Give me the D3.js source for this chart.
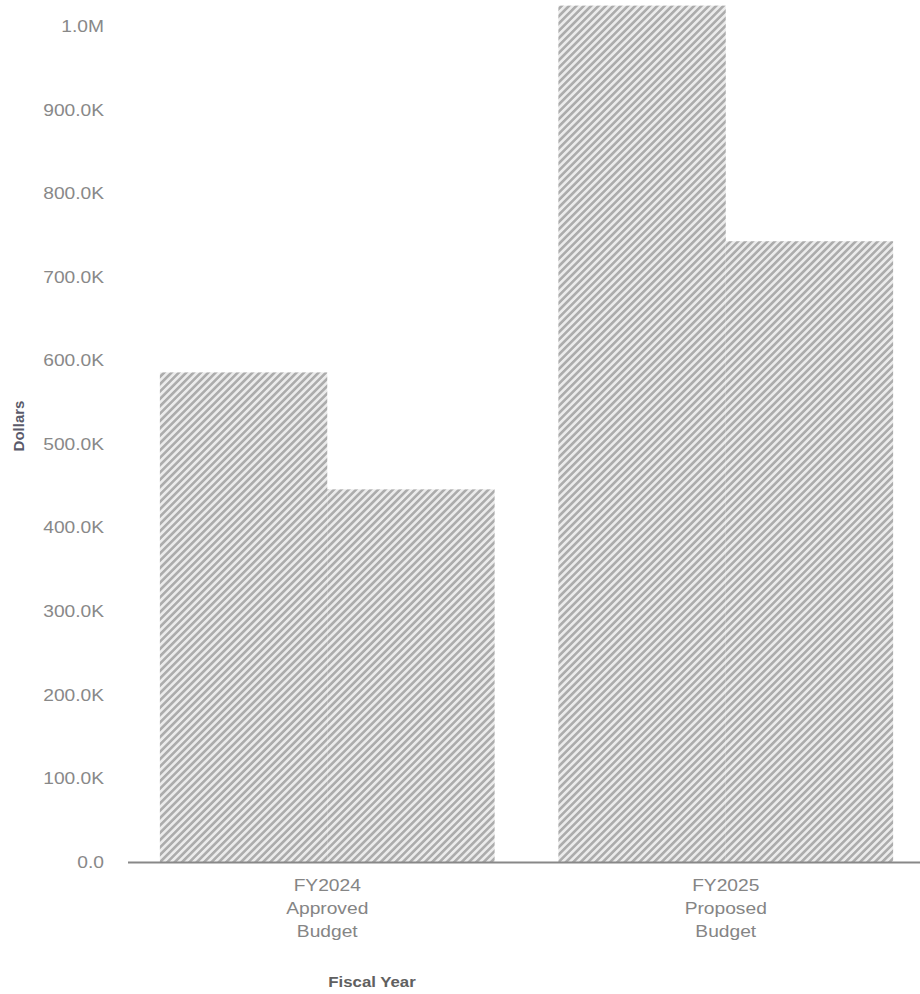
<!DOCTYPE html>
<html>
<head>
<meta charset="utf-8">
<script src="https://cdn.jsdelivr.net/npm/d3@7"></script>
<style>
  body { margin: 0; background: #fff; }
  text { font-family: "Liberation Sans", Arial, sans-serif; }
</style>
</head>
<body>
<svg id="chart" width="920" height="994"></svg>
<script>
const years = ["FY2024 Approved Budget", "FY2025 Proposed Budget"];
const yearLines = [["FY2024", "Approved", "Budget"], ["FY2025", "Proposed", "Budget"]];
const seriesKeys = ["first", "second"];
const firstValues = [586000, 1025000];
const secondValues = [446000, 743000];
const yTicks = [0, 100000, 200000, 300000, 400000, 500000, 600000, 700000, 800000, 900000, 1000000];

const data = years.map((year, i) => ({
  year,
  first: firstValues[i],
  second: secondValues[i],
}));

const svg = d3.select("#chart");
const width = +svg.attr("width");
const stretch = 1.2;

const margin = { top: 26.5, left: 128 };
const plotBottom = 862;

const x0 = d3
  .scaleBand()
  .domain(years)
  .range([margin.left, 925])
  .paddingInner(0.16)
  .paddingOuter(0.08);

const x1 = d3.scaleBand().domain(seriesKeys).range([0, x0.bandwidth()]).padding(0);

const y = d3.scaleLinear().domain([0, 1000000]).range([plotBottom, margin.top]);

const fmt = (d) => {
  if (d === 0) return "0.0";
  if (d >= 1e6) return (d / 1e6).toFixed(1) + "M";
  return (d / 1e3).toFixed(1) + "K";
};

// hatch fill
const step = 5.2;
const defs = svg.append("defs");
const pat = defs
  .append("pattern")
  .attr("id", "hatch")
  .attr("patternUnits", "userSpaceOnUse")
  .attr("width", step)
  .attr("height", step)
  .attr("patternTransform", "rotate(45)");
pat.append("rect").attr("width", step).attr("height", step).attr("fill", "#ebebeb");
pat.append("rect").attr("width", step / 2).attr("height", step).attr("fill", "#acacac");

// bars
svg
  .append("g")
  .selectAll("g")
  .data(data)
  .join("g")
  .attr("transform", (d) => `translate(${x0(d.year)},0)`)
  .selectAll("rect")
  .data((d) => seriesKeys.map((k) => ({ key: k, value: d[k] })))
  .join("rect")
  .attr("x", (d) => x1(d.key))
  .attr("width", x1.bandwidth())
  .attr("y", (d) => y(d.value))
  .attr("height", (d) => y(0) - y(d.value))
  .attr("fill", "url(#hatch)");

// y axis (labels only)
const yAxis = svg
  .append("g")
  .attr("transform", `translate(${margin.left},0)`)
  .call(d3.axisLeft(y).tickValues(yTicks).tickFormat(fmt).tickSize(0));
yAxis.select(".domain").remove();
yAxis
  .selectAll("text")
  .attr("x", -24 / stretch)
  .attr("transform", `scale(${stretch},1)`)
  .attr("fill", "#888")
  .style("font-size", "16px");

// baseline
svg
  .append("line")
  .attr("x1", margin.left)
  .attr("x2", width)
  .attr("y1", plotBottom + 0.5)
  .attr("y2", plotBottom + 0.5)
  .attr("stroke", "#888")
  .attr("stroke-width", 2);

// x labels
const xLab = svg
  .append("g")
  .selectAll("text")
  .data(years)
  .join("text")
  .attr("transform", (d) => `translate(${x0(d) + x0.bandwidth() / 2},891) scale(${stretch},1)`)
  .attr("text-anchor", "middle")
  .attr("fill", "#858585")
  .style("font-size", "16px");
xLab
  .selectAll("tspan")
  .data((d, i) => yearLines[i])
  .join("tspan")
  .attr("x", 0)
  .attr("dy", (d, i) => (i === 0 ? 0 : 23))
  .text((d) => d);

// axis titles
svg
  .append("text")
  .attr("transform", `translate(372,987) scale(${stretch},1)`)
  .attr("text-anchor", "middle")
  .attr("fill", "#606060")
  .style("font-size", "14px")
  .style("font-weight", "bold")
  .text("Fiscal Year");

svg
  .append("text")
  .attr("transform", "translate(24,426) rotate(-90)")
  .attr("text-anchor", "middle")
  .attr("fill", "#5a5a6a")
  .style("font-size", "15px")
  .style("font-weight", "bold")
  .text("Dollars");
</script>
</body>
</html>
